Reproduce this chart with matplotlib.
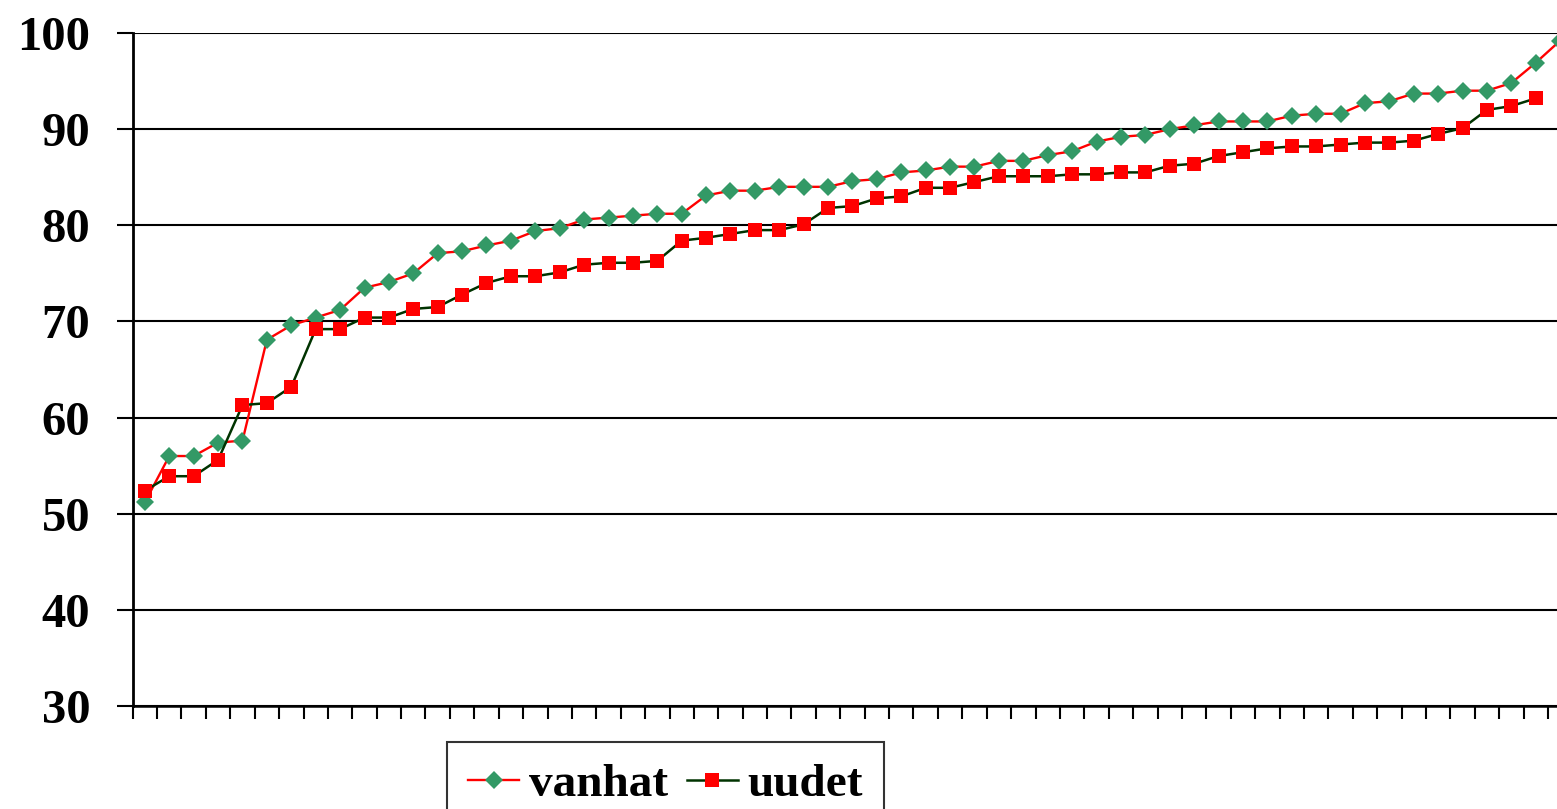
import matplotlib
matplotlib.use("Agg")
import matplotlib.pyplot as plt
import numpy as np

# values (sorted scores per item)
vanhat = [51.2, 56.0, 56.0, 57.4, 57.6, 68.1, 69.6, 70.4, 71.2, 73.5,
          74.1, 75.0, 77.1, 77.3, 77.9, 78.4, 79.4, 79.7, 80.6, 80.8,
          81.0, 81.2, 81.2, 83.1, 83.6, 83.6, 84.0, 84.0, 84.0, 84.6,
          84.8, 85.5, 85.7, 86.1, 86.1, 86.7, 86.7, 87.3, 87.7, 88.7,
          89.2, 89.4, 90.0, 90.4, 90.8, 90.8, 90.8, 91.4, 91.6, 91.6,
          92.7, 92.9, 93.7, 93.7, 94.0, 94.0, 94.8, 96.9, 99.2]
uudet = [52.4, 53.9, 53.9, 55.6, 61.3, 61.5, 63.2, 69.2, 69.2, 70.4,
         70.4, 71.3, 71.5, 72.8, 74.0, 74.7, 74.7, 75.1, 75.9, 76.1,
         76.1, 76.3, 78.4, 78.7, 79.1, 79.5, 79.5, 80.1, 81.8, 82.0,
         82.8, 83.0, 83.9, 83.9, 84.5, 85.1, 85.1, 85.1, 85.3, 85.3,
         85.5, 85.5, 86.2, 86.4, 87.2, 87.6, 88.0, 88.2, 88.2, 88.4,
         88.6, 88.6, 88.8, 89.5, 90.1, 92.0, 92.4, 93.2]
series_names = ["vanhat", "uudet"]
y_ticks = [30, 40, 50, 60, 70, 80, 90, 100]

FONT = "Liberation Serif"
plt.rcParams["font.family"] = [FONT, "DejaVu Serif"]

W, H = 1557, 809
fig = plt.figure(figsize=(W / 100, H / 100), dpi=100)
ax = fig.add_axes([132.7 / W, 1 - 706 / H, 1 - 132.7 / W, (706 - 33) / H])

x_v = np.arange(len(vanhat))
x_u = np.arange(len(uudet))
ax.plot(x_v, vanhat, color="#ff0000", lw=1.7, marker="D", ms=9.5,
        mfc="#339966", mec="#339966", mew=0, label=series_names[0], zorder=3)
ax.plot(x_u, uudet, color="#003300", lw=1.8, marker="s", ms=10,
        mfc="#ff0000", mec="#ff0000", mew=0, label=series_names[1], zorder=4)

ax.set_yticks(y_ticks)
ax.set_yticklabels([str(v) for v in y_ticks], fontsize=35, fontweight="bold")
ax.set_xticks(np.arange(-0.5, 60, 1))
ax.set_xticklabels([])
# limits after the ticks, so the tick list does not widen the view
ax.set_ylim(30, 100)
ax.set_xlim(-0.5, -0.5 + (W - 132.7) / 24.4)
ax.tick_params(axis="y", direction="out", length=11.5, width=1.5, pad=19)
ax.tick_params(axis="x", direction="out", length=9, width=1.5)

ax.grid(True, axis="y", color="black", lw=1.5)
ax.set_axisbelow(True)
for side in ("top", "right"):
    ax.spines[side].set_visible(False)
ax.spines["left"].set_linewidth(2)
ax.spines["bottom"].set_linewidth(1.8)

leg = ax.legend(loc="upper left", bbox_to_anchor=(447 / W, 1 - 742 / H),
                bbox_transform=fig.transFigure, ncol=2, frameon=True,
                fancybox=False, borderaxespad=0, borderpad=0.45,
                handlelength=1.08, handletextpad=0.2, columnspacing=0.4,
                prop={"family": FONT, "weight": "bold", "size": 34})
leg.get_frame().set_edgecolor("black")
leg.get_frame().set_linewidth(1.5)
leg.set_clip_on(False)

fig.savefig("out.png", dpi=100)
